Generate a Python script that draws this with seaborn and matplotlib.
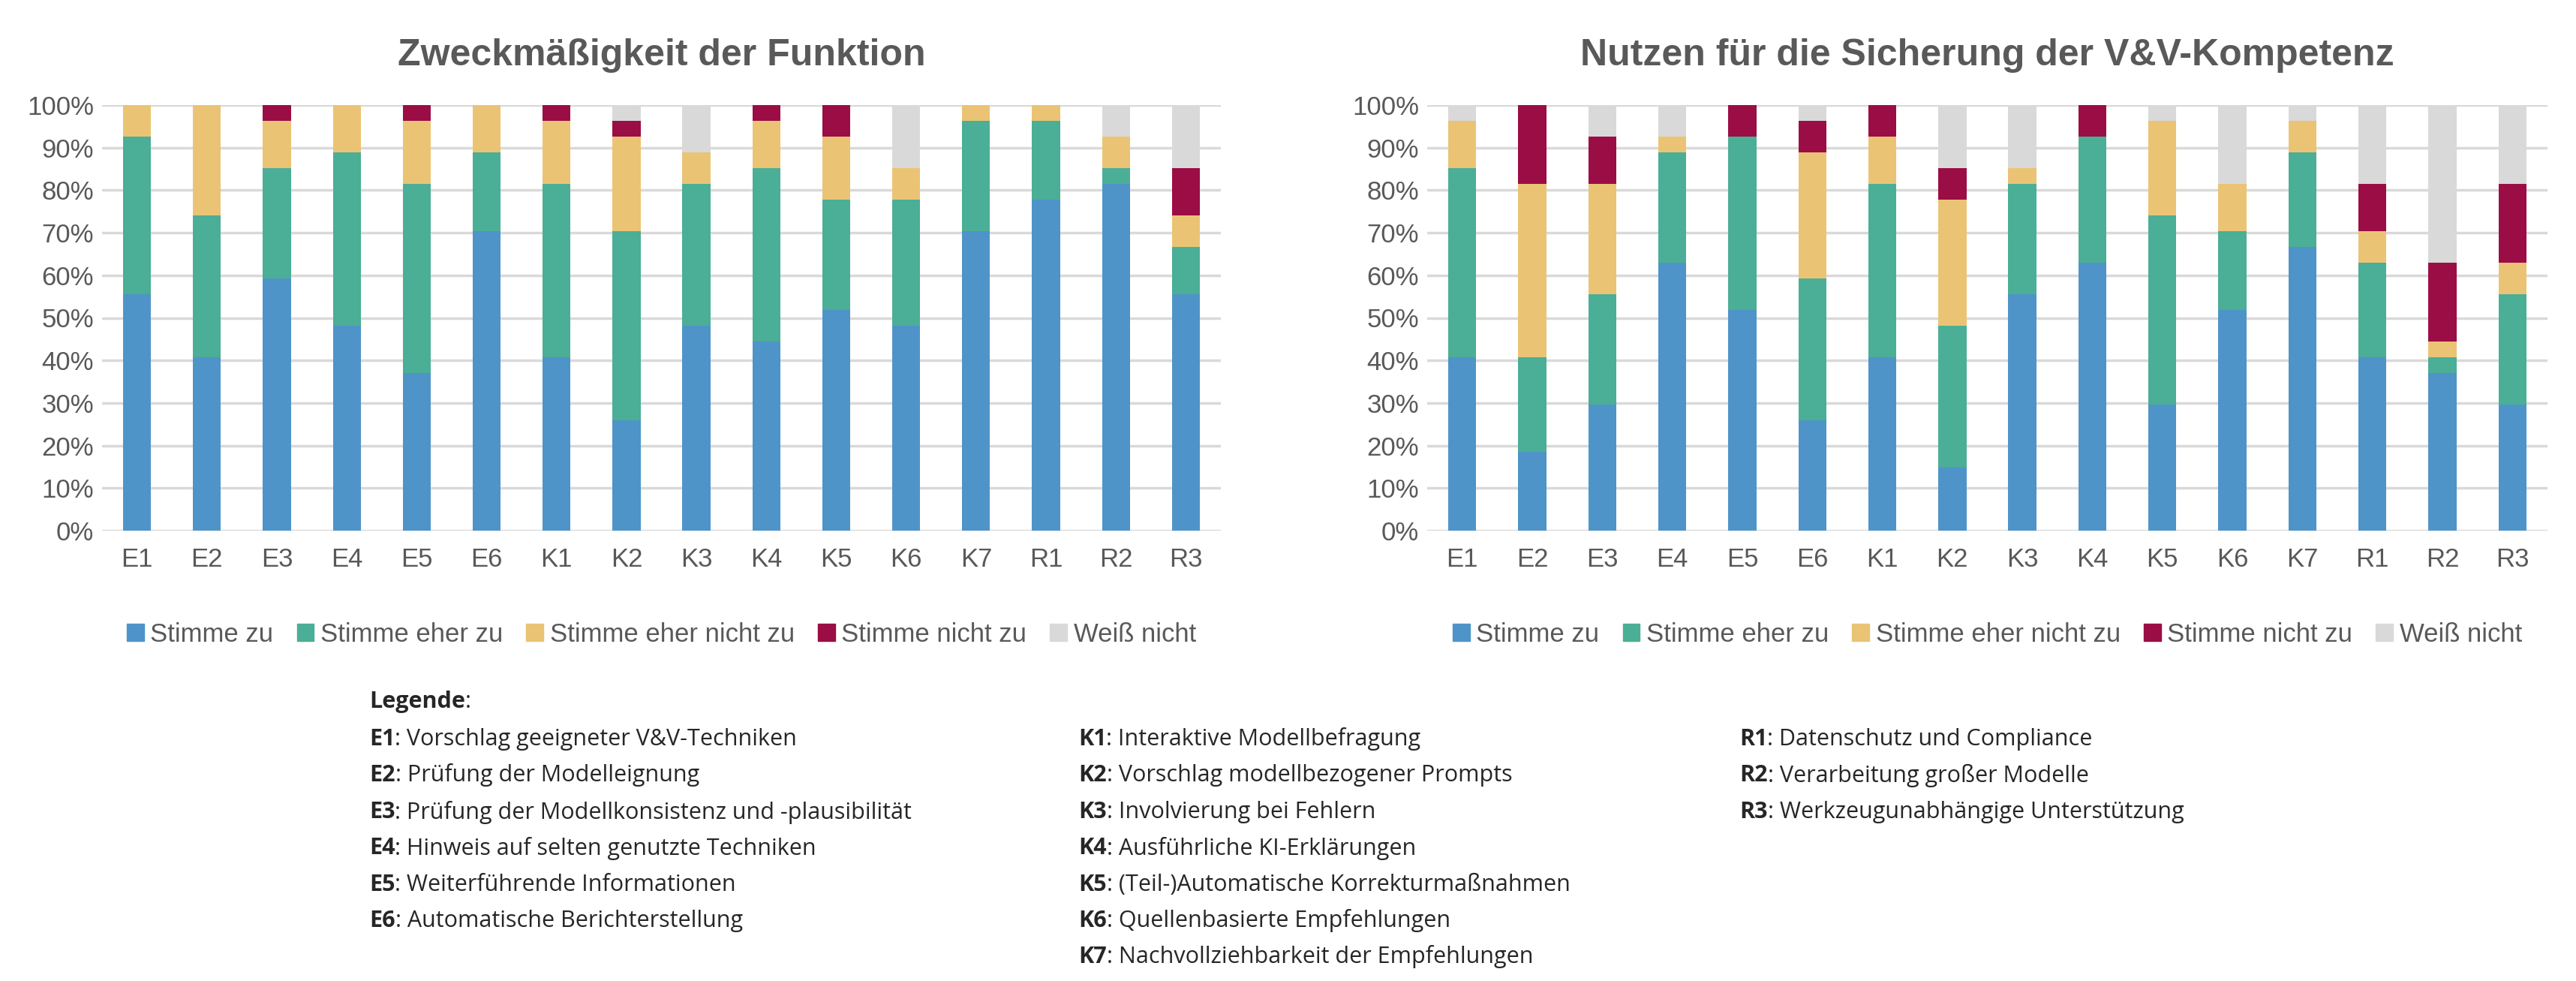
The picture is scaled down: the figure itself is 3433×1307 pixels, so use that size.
import numpy as np
import pandas as pd
import seaborn as sns
import matplotlib.pyplot as plt

items = ["E1", "E2", "E3", "E4", "E5", "E6", "K1", "K2", "K3", "K4", "K5", "K6", "K7", "R1", "R2", "R3"]
answers = ["Stimme zu", "Stimme eher zu", "Stimme eher nicht zu", "Stimme nicht zu", "Weiß nicht"]
colors = ["#4E94C8", "#4BAE96", "#EAC474", "#9B0D45", "#D9D9D9"]
n_resp = 27

# counts per answer (out of 27 respondents)
zweck_zu = [15, 11, 16, 13, 10, 19, 11, 7, 13, 12, 14, 13, 19, 21, 22, 15]
zweck_eher_zu = [10, 9, 7, 11, 12, 5, 11, 12, 9, 11, 7, 8, 7, 5, 1, 3]
zweck_eher_nicht = [2, 7, 3, 3, 4, 3, 4, 6, 2, 3, 4, 2, 1, 1, 2, 2]
zweck_nicht = [0, 0, 1, 0, 1, 0, 1, 1, 0, 1, 2, 0, 0, 0, 0, 3]
zweck_weiss = [0, 0, 0, 0, 0, 0, 0, 1, 3, 0, 0, 4, 0, 0, 2, 4]

nutzen_zu = [11, 5, 8, 17, 14, 7, 11, 4, 15, 17, 8, 14, 18, 11, 10, 8]
nutzen_eher_zu = [12, 6, 7, 7, 11, 9, 11, 9, 7, 8, 12, 5, 6, 6, 1, 7]
nutzen_eher_nicht = [3, 11, 7, 1, 0, 8, 3, 8, 1, 0, 6, 3, 2, 2, 1, 2]
nutzen_nicht = [0, 5, 3, 0, 2, 2, 2, 2, 0, 2, 0, 0, 0, 3, 5, 5]
nutzen_weiss = [1, 0, 2, 2, 0, 1, 0, 4, 4, 0, 1, 5, 1, 5, 10, 5]

legend_cols = [
    [("E1", "Vorschlag geeigneter V&V-Techniken"),
     ("E2", "Prüfung der Modelleignung"),
     ("E3", "Prüfung der Modellkonsistenz und -plausibilität"),
     ("E4", "Hinweis auf selten genutzte Techniken"),
     ("E5", "Weiterführende Informationen"),
     ("E6", "Automatische Berichterstellung")],
    [("K1", "Interaktive Modellbefragung"),
     ("K2", "Vorschlag modellbezogener Prompts"),
     ("K3", "Involvierung bei Fehlern"),
     ("K4", "Ausführliche KI-Erklärungen"),
     ("K5", "(Teil-)Automatische Korrekturmaßnahmen"),
     ("K6", "Quellenbasierte Empfehlungen"),
     ("K7", "Nachvollziehbarkeit der Empfehlungen")],
    [("R1", "Datenschutz und Compliance"),
     ("R2", "Verarbeitung großer Modelle"),
     ("R3", "Werkzeugunabhängige Unterstützung")],
]

sns.set_style("white")
plt.rcParams["font.family"] = ["Liberation Sans", "DejaVu Sans"]

fig = plt.figure(figsize=(34.33, 13.07), dpi=100)
ax1 = fig.add_axes([136 / 3433, 1 - 707 / 1307, 1491 / 3433, 567 / 1307])
ax2 = fig.add_axes([1902 / 3433, 1 - 707 / 1307, 1493 / 3433, 567 / 1307])


def stacked(ax, layers, title):
    pct = np.array(layers, dtype=float) / n_resp * 100
    cum = np.cumsum(pct, axis=0)
    for i in range(len(answers) - 1, -1, -1):
        sns.barplot(x=items, y=cum[i], color=colors[i], width=0.4, saturation=1,
                    ax=ax, linewidth=0, zorder=2)
    ax.set_ylim(0, 100)
    ax.set_xlim(-0.5, len(items) - 0.5)
    ax.set_yticks(range(0, 101, 10))
    ax.set_yticklabels([f"{v}%" for v in range(0, 101, 10)])
    ax.yaxis.grid(True, color="#D9D9D9", linewidth=2.5, zorder=0)
    ax.set_axisbelow(True)
    for s in ax.spines.values():
        s.set_visible(False)
    ax.tick_params(axis="both", labelsize=25, colors="#595959", length=0, pad=8)
    ax.tick_params(axis="x", pad=16)
    ax.set_title(title, fontsize=36, fontweight="bold", color="#595959", pad=38)
    ax.set_xlabel("")
    ax.set_ylabel("")
    handles = [plt.Rectangle((0, 0), 1, 1, color=c) for c in colors]
    ax.legend(handles, answers, loc="upper center", bbox_to_anchor=(0.5, -0.16),
              ncol=5, frameon=False, fontsize=25, handlelength=0.65, handleheight=0.65,
              handletextpad=0.25, columnspacing=0.9, labelcolor="#595959")


stacked(ax1, [zweck_zu, zweck_eher_zu, zweck_eher_nicht, zweck_nicht, zweck_weiss],
        "Zweckmäßigkeit der Funktion")
stacked(ax2, [nutzen_zu, nutzen_eher_zu, nutzen_eher_nicht, nutzen_nicht, nutzen_weiss],
        "Nutzen für die Sicherung der V&V-Kompetenz")

# legend text below
lf = ["Open Sans", "DejaVu Sans"]
t = fig.text(492 / 3433, 1 - 935 / 1307, "Legende", fontsize=22, fontweight="bold",
             family=lf, va="center")
plt.annotate(":", xy=(1, 0.5), xycoords=t, va="center", fontsize=22, family=lf)
col_x = [492, 1437, 2318]
row_y = [985, 1033, 1082, 1130, 1179, 1227, 1275]
for cx, col in zip(col_x, legend_cols):
    for ry, (key, desc) in zip(row_y, col):
        k = fig.text(cx / 3433, 1 - ry / 1307, key, fontsize=22, fontweight="bold",
                     family=lf, va="center")
        plt.annotate(": " + desc, xy=(1, 0.5), xycoords=k, va="center",
                     fontsize=22, family=lf)

plt.savefig("out.png", dpi=100)
plt.close()
